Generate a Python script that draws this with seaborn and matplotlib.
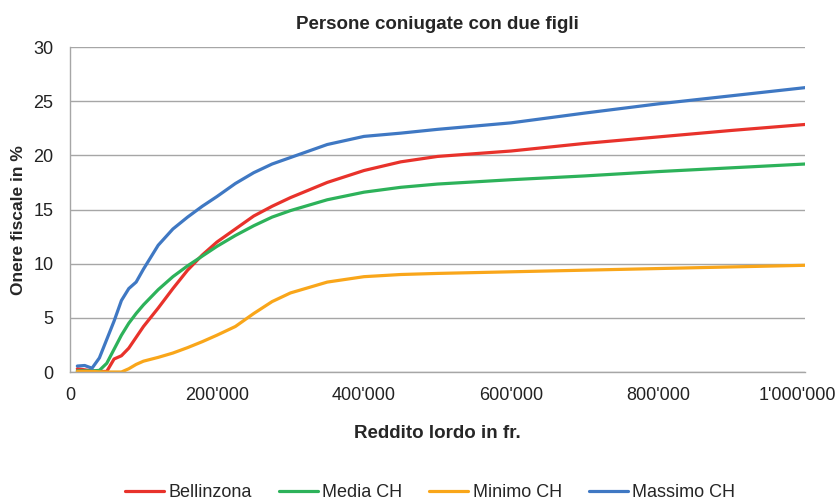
import pandas as pd
import numpy as np
import matplotlib.pyplot as plt
import matplotlib.transforms as mtransforms
import seaborn as sns
from matplotlib.ticker import FuncFormatter

# income levels (fr.) and tax burden (%)
reddito = [10000, 20000, 30000, 40000, 50000, 60000, 70000, 80000, 90000, 100000,
           120000, 140000, 160000, 180000, 200000, 225000, 250000, 275000, 300000,
           350000, 400000, 450000, 500000, 600000, 700000, 800000, 900000, 1000000]

bellinzona = [0.3, 0.2, 0.1, 0.05, 0.05, 1.2, 1.5, 2.2, 3.2, 4.2,
              5.9, 7.7, 9.4, 10.8, 12.0, 13.2, 14.4, 15.3, 16.1,
              17.5, 18.6, 19.4, 19.9, 20.4, 21.1, 21.7, 22.3, 22.85]
media_ch = [0.1, 0.1, 0.1, 0.15, 0.8, 2.1, 3.4, 4.5, 5.4, 6.2,
            7.6, 8.8, 9.8, 10.7, 11.6, 12.6, 13.5, 14.3, 14.9,
            15.9, 16.6, 17.05, 17.35, 17.75, 18.1, 18.5, 18.85, 19.2]
minimo_ch = [0.05, 0.05, 0.05, 0.02, 0.0, 0.0, 0.0, 0.3, 0.7, 1.0,
             1.35, 1.75, 2.25, 2.8, 3.4, 4.2, 5.4, 6.5, 7.3,
             8.3, 8.8, 9.0, 9.1, 9.25, 9.4, 9.55, 9.7, 9.85]
massimo_ch = [0.55, 0.6, 0.35, 1.3, 3.0, 4.7, 6.6, 7.7, 8.3, 9.5,
              11.7, 13.2, 14.3, 15.3, 16.2, 17.4, 18.4, 19.2, 19.8,
              21.0, 21.75, 22.05, 22.4, 23.0, 23.9, 24.75, 25.5, 26.25]

serie = ["Bellinzona", "Media CH", "Minimo CH", "Massimo CH"]
colori = ["#E8322B", "#2DB25A", "#F9A61A", "#3F78C3"]

df = pd.DataFrame({"Reddito": reddito * 4,
                   "Onere": bellinzona + media_ch + minimo_ch + massimo_ch,
                   "Serie": np.repeat(serie, len(reddito))})

sns.set_style("white")
plt.rcParams["font.family"] = ["Liberation Sans", "DejaVu Sans"]

fig, ax = plt.subplots(figsize=(8.37, 5.04), dpi=100)
fig.subplots_adjust(left=0.0836, right=0.9618, top=0.9067, bottom=0.2619)

sns.lineplot(data=df, x="Reddito", y="Onere", hue="Serie", hue_order=serie,
             palette=colori, linewidth=2.3, ax=ax, legend=False)

ax.set_xlim(0, 1000000)
ax.set_ylim(0, 30)
ax.set_xticks(range(0, 1000001, 200000))
ax.set_yticks(range(0, 31, 5))
ax.xaxis.set_major_formatter(FuncFormatter(
    lambda v, p: "0" if v == 0 else f"{int(v):,}".replace(",", "'")))

ax.yaxis.grid(True, color="#A6A6A6", linewidth=1)
ax.set_axisbelow(True)
for s in ["top", "right"]:
    ax.spines[s].set_visible(False)
for s in ["left", "bottom"]:
    ax.spines[s].set_color("#A6A6A6")
    ax.spines[s].set_linewidth(1)
ax.tick_params(axis="both", length=4, color="#A6A6A6", labelsize=13, labelcolor="#222222")
ax.tick_params(axis="x", pad=7)
ax.tick_params(axis="y", pad=8)

# last x label sits a bit to the left so it stays inside the figure
fig.canvas.draw()
last = ax.get_xticklabels()[-1]
last.set_transform(last.get_transform() + mtransforms.ScaledTranslation(-0.08, 0, fig.dpi_scale_trans))

ax.set_title("Persone coniugate con due figli", fontsize=13.5, fontweight="bold", pad=13)
ax.set_xlabel("Reddito lordo in fr.", fontsize=13.5, fontweight="bold", labelpad=15)
ax.set_ylabel("Onere fiscale in %", fontsize=12.5, fontweight="bold")
ax.yaxis.set_label_coords(-0.06, 0.468)

handles = [plt.Line2D([], [], color=c, linewidth=2.3) for c in colori]
fig.legend(handles, serie, loc="lower center", bbox_to_anchor=(0.514, -0.026), ncol=4,
           frameon=False, fontsize=13, handlelength=2.15, handletextpad=0.25, columnspacing=1.5)

fig.savefig("out.png", dpi=100)
